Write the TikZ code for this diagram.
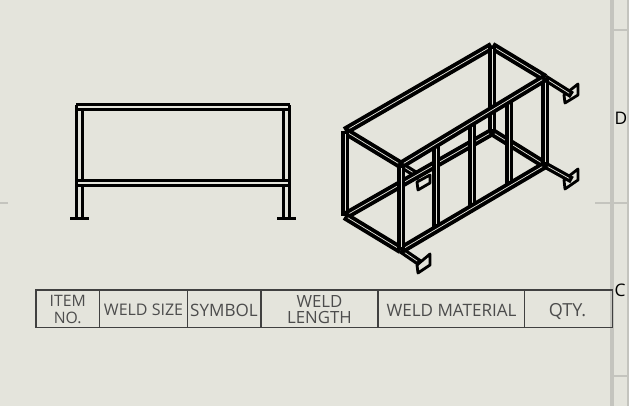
\documentclass[tikz,border=0pt]{standalone}
\usepackage{fontspec}
\setmainfont{Open Sans}
\definecolor{paper}{HTML}{E4E4DC}
\definecolor{edge}{HTML}{C4C4BE}
\definecolor{rule}{HTML}{404040}
\newcommand{\tube}[3][6.4pt]{%
  \draw[line width=#1,black,line cap=butt] (#2) -- (#3);
  \draw[line width=0.55pt,paper,line cap=butt,shorten >=2.5pt,shorten <=2.5pt] (#2) -- (#3);}
\tikzset{
  sheetline/.style={edge,line width=1.5pt},
  cell/.style={font=\fontsize{12.6}{12.4}\selectfont,text=black!70,align=center,inner sep=0pt},
  zone/.style={font=\fontsize{13}{13}\selectfont,text=black,inner sep=0pt},
  solid bar/.style={line width=2.3pt,black},
  tab/.style={line width=2.1pt,black,fill=paper,line join=round}
}
\begin{document}
\begin{tikzpicture}[x=.75pt,y=-.75pt]
\fill[paper] (0,0) rectangle (629,406);
\useasboundingbox (0,0) rectangle (629,406);
% sheet border
\draw[edge,line width=3.6pt] (612,0) -- (612,406);
\draw[sheetline] (628,0) -- (628,406);
\draw[sheetline] (612,30) -- (628,30);
\draw[sheetline] (595,203) -- (628,203);
\draw[sheetline] (612,376) -- (628,376);
\draw[sheetline] (0,203) -- (8,203);
\node[zone] (zd) at (621,118) {D};
\node[zone] (zc) at (620,290) {C};
% front view
\foreach \a/\b in {76.2/82.8,283.3/289.5}{
  \draw[solid bar] (\a,105) -- (\a,218);
  \draw[solid bar] (\b,105) -- (\b,218);}
\draw[solid bar] (76,104.6) -- (290,104.6);
\draw[solid bar] (76,109.4) -- (290,109.4);
\draw[solid bar] (76,180.8) -- (290,180.8);
\draw[solid bar] (76,185.6) -- (290,185.6);
\fill[paper] (78,106.3) rectangle (288,107.7);
\fill[paper] (78,182.5) rectangle (288,183.9);
\draw[line width=2.4pt] (70,218.2) -- (89,218.2);
\draw[line width=2.4pt] (277,218.2) -- (296,218.2);
% isometric view
\coordinate (tl) at (345,131);
\coordinate (tb) at (492,46);
\coordinate (tr) at (545,78);
\coordinate (tf) at (401,165);
\coordinate (bl) at (345,216);
\coordinate (bb) at (492,132);
\coordinate (br) at (545,165);
\coordinate (bf) at (401,250);
% brackets
\coordinate (e1) at (420,177);
\coordinate (e2) at (572,95);
\coordinate (e3) at (572,180);
\coordinate (e4) at (420,263);
\draw[tab] (430,175) -- (430,183) -- (418,190) -- (417,182) -- cycle;
\tube[5.4pt]{tf}{e1}
\tube{tl}{tb}
\tube{tb}{tr}
\tube{tl}{tf}
\tube{tl}{bl}
\tube{tb}{bb}
\tube{bb}{bl}
\tube{bb}{br}
\tube{bl}{bf}
\draw[tab] (578,84) -- (578,95) -- (565,103) -- (564,95) -- cycle;
\tube[5.4pt]{tr}{e2}
\draw[tab] (578,169) -- (578,180) -- (565,189) -- (564,180) -- cycle;
\tube[5.4pt]{br}{e3}
\draw[tab] (430,254) -- (430,265) -- (418,273) -- (417,265) -- cycle;
\tube[5.4pt]{bf}{e4}
\foreach \x/\a/\b in {436/143/231,472/122/209,509/100/188}{
  \coordinate (mt) at (\x,\a); \coordinate (mb) at (\x,\b);
  \tube{mt}{mb}}
\tube{bf}{br}
\tube{tr}{br}
\tube{tf}{bf}
\tube{tf}{tr}
% weld table
\draw[rule,line width=.85pt] (36,290) rectangle (612.5,327.5);
\foreach \x in {99.5,187.5,261,378,524.5}
  \draw[rule,line width=.85pt] (\x,290) -- (\x,327.5);
\node[cell,font=\fontsize{11.8}{12.4}\selectfont] (c1) at (67.7,309.5) {ITEM\\NO.};
\node[cell,font=\fontsize{12}{12}\selectfont] (c2) at (143.5,310) {WELD SIZE};
\node[cell,font=\fontsize{12.8}{12}\selectfont] (c3) at (224,310) {SYMBOL};
\node[cell] (c4) at (319.5,309.5) {WELD\\LENGTH};
\node[cell,font=\fontsize{12.8}{12}\selectfont] (c5) at (451.5,310) {WELD MATERIAL};
\node[cell,font=\fontsize{13.5}{12}\selectfont] (c6) at (567.5,311.5) {QTY.};
\end{tikzpicture}
\end{document}
